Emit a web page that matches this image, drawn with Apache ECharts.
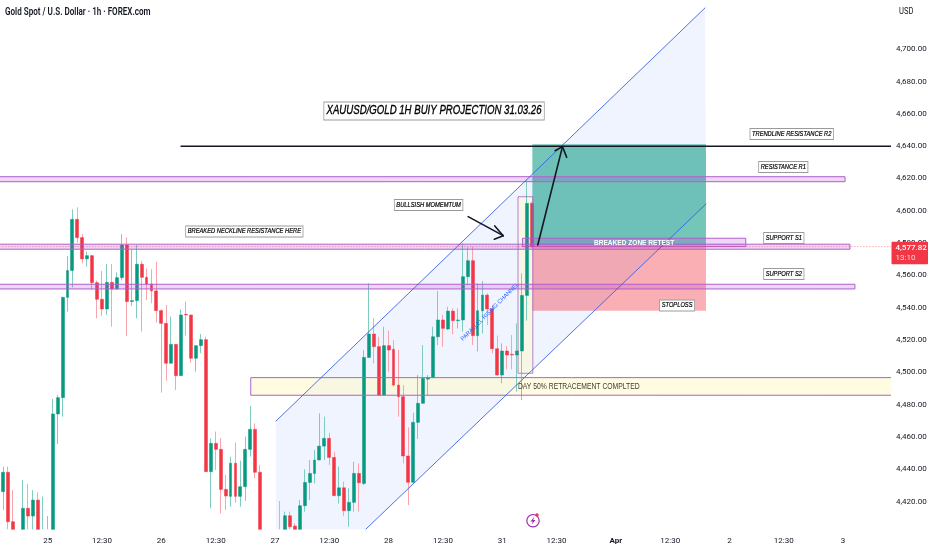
<!DOCTYPE html>
<html><head><meta charset="utf-8">
<style>html,body{margin:0;padding:0;background:#fff}#c{width:932px;height:550px}</style>
<script src="https://cdn.jsdelivr.net/npm/echarts@6/dist/echarts.min.js"></script>
</head><body><div id="c"></div>
<script>
const opens=[4426.1,4438.1,4407.5,4398,4398,4415.8,4411,4420.9,4395,4392,4400,4474.2,4484.3,4546.4,4563,4594.7,4583.4,4570.2,4572.2,4555.5,4545.2,4539.2,4555.7,4551.6,4558.6,4578.8,4543.8,4544.4,4566.9,4558.8,4554.7,4550.4,4538.2,4530.3,4505.6,4517.3,4497.9,4535.9,4535.5,4508.7,4516.5,4520.2,4438.5,4456,4452.3,4427.5,4423.2,4443.7,4423.2,4429.2,4452.3,4464.7,4438.1,4398,4390,4385,4392,4400,4411.2,4404.8,4400,4417.4,4431.8,4437.4,4445.7,4454.3,4459.1,4447.3,4423.6,4428.5,4414.3,4419.5,4437.4,4431.2,4509.2,4523.7,4515.9,4485.9,4516.5,4514.2,4492.1,4484.9,4448.2,4431.9,4469,4480.8,4495.8,4496.7,4522,4532.4,4526.8,4537.9,4532,4532.4,4559.2,4569.1,4522.7,4538.1,4547.8,4539.2,4514.6,4498.3,4513.2,4511.1,4510.7,4513.2,4547.6,4604.6];
const closes=[4438.1,4407.5,4400.3,4396,4415.8,4411,4420.9,4400,4400,4400,4474.2,4484.3,4546.4,4563,4594.7,4583.4,4570.2,4572.2,4555.5,4545.2,4539.2,4555.7,4551.6,4558.6,4578.8,4543.8,4544.4,4566.9,4558.8,4554.7,4550.4,4538.2,4530.3,4505.6,4517.3,4497.9,4535.5,4535.5,4508.7,4516.5,4520.2,4438.5,4456,4452.3,4427.5,4423.4,4443.7,4423.2,4429.2,4452.3,4464.7,4438.1,4398,4390,4385,4395,4398,4411.2,4404.4,4401,4417.4,4431.8,4437.4,4445.7,4454.3,4459.1,4447.3,4423.6,4428.5,4414.3,4419.5,4437.4,4431.6,4509.2,4523.7,4515.9,4485.9,4516.5,4513.8,4492.1,4484.9,4448.2,4431.9,4469,4480.8,4496.2,4496.7,4522,4532.4,4527.2,4537.9,4532,4532.4,4559.2,4569.1,4522.7,4538.1,4547.8,4539.2,4514.6,4498.3,4513.2,4510.7,4510.7,4513.2,4547.6,4604.6,4577.8];
const lows=[4414.8,4402.4,4400,4394,4395,4402.4,4402.4,4396,4392,4390,4396,4455.6,4472.5,4537.6,4552.6,4580.3,4567.5,4565.4,4551,4533.4,4534.9,4535.5,4528.3,4551,4556.8,4522.5,4541,4533.4,4525.2,4544.8,4542.7,4530.8,4487.4,4494.8,4505.6,4489,4497.9,4522.7,4506,4500.4,4511.8,4438.5,4415.8,4439.5,4412.7,4414.8,4416.8,4419.3,4416.8,4420.5,4447.8,4434.4,4394,4385,4380,4380,4388,4396,4398,4396,4396,4413.7,4420.9,4431.2,4445.7,4445.7,4442.6,4423.6,4418.8,4411,4404.4,4413.7,4413.7,4430.2,4509.2,4505.5,4485.9,4485.9,4500.4,4491.1,4472.5,4443.6,4417.8,4431.9,4458.7,4480.8,4485.9,4496.7,4516.9,4515.9,4526.2,4523.5,4527.2,4525.1,4554,4516.9,4512.8,4524.1,4529.3,4511.7,4498.3,4493.2,4501.8,4501.8,4488,4482.8,4532,4577];
const highs=[4441.6,4441.6,4427.1,4399,4433.3,4430.9,4427.1,4425.7,4423,4411,4483.5,4486,4546.8,4572,4600.9,4602.2,4585.6,4574.7,4572.6,4556.8,4562.7,4567.1,4567.1,4561.9,4585.6,4583.6,4576.2,4578.8,4568.9,4564.4,4563.8,4568.5,4539,4541.7,4534.5,4517.3,4539,4543.8,4535.5,4516.5,4523.7,4522.1,4459.1,4463.3,4459.1,4436.4,4447.8,4456.5,4445.3,4460.2,4479.2,4468.4,4442.6,4399,4395,4399,4420.3,4413.7,4413.7,4406.5,4420.9,4439.9,4445.7,4451.9,4474.6,4472.5,4462.6,4450.8,4441.6,4432.3,4428.1,4444.6,4443.6,4513.8,4555.1,4533.4,4522,4528.2,4525.8,4520,4513.8,4492.1,4465.9,4475,4498.3,4516.9,4498.3,4528.2,4550.3,4535.5,4540.6,4539.6,4539.6,4579.8,4577.4,4577.8,4555.1,4556.5,4548.9,4541.7,4522.7,4517.9,4516.3,4523.1,4530.3,4561.3,4619,4605.5];

const barSlots=180;
const timeLabels={9:'25',20:'12:30',32:'26',43:'12:30',55:'27',66:'12:30',78:'28',89:'12:30',101:'31',112:'12:30',124:'Apr',135:'12:30',147:'2',158:'12:30',170:'3'};
const priceTicks=[4420,4440,4460,4480,4500,4520,4540,4560,4580,4600,4620,4640,4660,4680,4700];
const axisMin=4402.8, axisMax=4730.5;
const lastPrice=4577.82;
const countdown='13:10';

// [from bar, to bar, upper price, lower price]
const srBands=[[-2,170.4,4621.1,4618],[-2,171.4,4579.3,4576.2],[-2,172.4,4554.5,4551.6],[105.1,150.3,4583,4577.8]];
const retraceZone=[50.1,180,4496.7,4485.8];
const candleHighlight=[104.2,107.2,4608.7,4499.4];
const targetBox=[107.1,142.25,4641.2,4578.8];
const stopBox=[107.1,142.25,4578.8,4538.1];
const channelFill=[[55.2,4469.8],[142.05,4725.6],[142.25,4604.2],[55.2,4349.7]];
const channelLines=[[[55.2,4469.8],[142.05,4725.6]],[[55.2,4349.7],[142.25,4604.2]]];
const blackLines=[
 [[36,4640],[180,4640]],
 [[108.2,4578.8],[113.2,4639.7]],[[111.7,4637.2],[113.2,4639.7]],[[114.05,4633.1],[113.2,4639.7]],
 [[94.1,4596.4],[101.2,4584.6]],[[99.5,4590.6],[101.2,4584.6]],[[99.4,4582.4],[101.2,4584.6]]
];
// [bar, price, text]
const boxedNotes=[
 [87.2,4661.8,'XAUUSD/GOLD 1H BUIY PROJECTION 31.03.26',12.5],
 [86.1,4603.6,'BULLSISH MOMEMTUM',7.2],
 [48.8,4587.2,'BREAKED NECKLINE RESISTANCE HERE',7.2],
 [159.6,4647.6,'TRENDLINE RESISTANCE R2',7.2],
 [157.9,4627.1,'RESISTANCE R1',7.2],
 [158,4583.2,'SUPPORT S1',7.2],
 [158,4560.9,'SUPPORT S2',7.2],
 [136.4,4541.4,'STOPLOSS',7.2]
];
const retestNote=[127.7,4580,'BREAKED ZONE RETEST'];
const retraceNote=[116.5,4491.2,'DAY 50% RETRACEMENT COMPLTED'];
const channelNote=[98.5,4537.5,'PARALLEL RISING CHANNEL'];

const UI='Roboto,"Noto Sans",sans-serif';
const NOTE='"Liberation Sans",sans-serif';
const GREEN='#089981',RED='#F23645',PURPLE='#b060cc';
const fmt=v=>v.toLocaleString('en-US',{minimumFractionDigits:2,maximumFractionDigits:2});
const categories=Array.from({length:barSlots},(_,i)=>timeLabels[i]||'');
// candlesticks are only filtered, not cut, at the grid edge: limit what is drawn to the visible window
const seen=v=>Math.max(v,axisMin);
const fullCandles=opens.map((o,i)=>highs[i]<axisMin?'-':[seen(o),seen(closes[i]),seen(lows[i]),seen(highs[i])]);
const bodyCandles=opens.map((o,i)=>Math.max(o,closes[i])<axisMin?'-':[seen(o),seen(closes[i]),seen(Math.min(o,closes[i])),seen(Math.max(o,closes[i]))]);

function rectShape(api,r){
  const a=api.coord([r[0],r[2]]),b=api.coord([r[1],r[3]]);
  return {x:a[0],y:a[1],width:b[0]-a[0],height:b[1]-a[1]};
}
function rectItem(api,r,fill,stroke){
  return {type:'rect',shape:rectShape(api,r),style:{fill:fill,stroke:stroke||null,lineWidth:stroke?1:0}};
}
function lineItem(api,pair,color,w){
  const a=api.coord(pair[0]),b=api.coord(pair[1]);
  return {type:'line',shape:{x1:a[0],y1:a[1],x2:b[0],y2:b[1]},style:{stroke:color,lineWidth:w,lineCap:'round'}};
}
function underlay(params,api){
  const ch=[];
  ch.push({type:'polygon',shape:{points:channelFill.map(p=>api.coord(p))},style:{fill:'rgba(41,98,255,0.07)'}});
  ch.push(rectItem(api,retraceZone,'rgba(255,249,200,0.55)'));
  ch.push(rectItem(api,candleHighlight,'rgba(255,250,200,0.45)'));
  return {type:'group',children:ch};
}
function drawings(params,api){
  const ch=[];
  ch.push(rectItem(api,targetBox,'rgba(8,153,129,0.56)'));
  ch.push(rectItem(api,stopBox,'rgba(242,54,69,0.4)'));
  ch.push(rectItem(api,candleHighlight,'rgba(0,0,0,0)','rgba(160,90,190,0.75)'));
  ch.push(rectItem(api,retraceZone,'rgba(0,0,0,0)',PURPLE));
  srBands.forEach(b=>ch.push(rectItem(api,b,'rgba(176,70,210,0.22)',PURPLE)));
  channelLines.forEach(l=>ch.push(lineItem(api,l,'rgba(50,90,225,0.85)',1)));
  blackLines.forEach(l=>ch.push(lineItem(api,l,'#131722',1.6)));
  const dotA=api.coord([-2,lastPrice]),dotB=api.coord([180,lastPrice]);
  ch.push({type:'line',shape:{x1:dotA[0],y1:dotA[1],x2:dotB[0],y2:dotB[1]},style:{stroke:RED,lineWidth:1,lineDash:[1,2],opacity:.6}});
  boxedNotes.forEach(n=>{
    const p=api.coord([n[0],n[1]]);
    ch.push({type:'text',x:p[0],y:p[1],scaleX:n[3]>10?0.77:0.8,style:{text:n[2],font:'italic '+n[3]+'px '+NOTE,fill:'#000',stroke:'#000',lineWidth:n[3]>10?0.35:0.2,align:'center',verticalAlign:'middle',backgroundColor:'#fff',borderColor:'#9a9a9a',borderWidth:1,padding:n[3]>10?[2,3]:[1.5,2]}});
  });
  let p=api.coord([retestNote[0],retestNote[1]]);
  ch.push({type:'text',x:p[0],y:p[1],scaleX:0.82,style:{text:retestNote[2],font:'bold 8px '+NOTE,fill:'#fff',align:'center',verticalAlign:'middle'}});
  p=api.coord([retraceNote[0],retraceNote[1]]);
  ch.push({type:'text',x:p[0],y:p[1],scaleX:0.8,style:{text:retraceNote[2],font:'8.5px '+NOTE,fill:'#3d3d33',align:'center',verticalAlign:'middle'}});
  p=api.coord([channelNote[0],channelNote[1]]);
  ch.push({type:'text',x:p[0],y:p[1],rotation:Math.PI/4,style:{text:channelNote[2],font:'5.8px '+NOTE,fill:'#2962FF',align:'center',verticalAlign:'middle'}});
  return {type:'group',children:ch};
}
function priceTag(params,api){
  const cs=params.coordSys,y=api.coord([0,lastPrice])[1],x=cs.x+cs.width+1.5;
  return {type:'group',children:[
    {type:'rect',shape:{x:x,y:y-4.8,width:36.5,height:22.5,r:1},style:{fill:RED}},
    {type:'text',x:x+4,y:y+1.5,style:{text:fmt(lastPrice),font:'500 8px '+UI,fill:'#fff',align:'left',verticalAlign:'middle'}},
    {type:'text',x:x+4,y:y+11,style:{text:countdown,font:'8px '+UI,fill:'#fbd5d8',align:'left',verticalAlign:'middle'}}
  ]};
}
const chart=echarts.init(document.getElementById('c'),null,{renderer:'canvas'});
chart.setOption({
  animation:false,backgroundColor:'#fff',
  grid:{left:0.8,right:42,top:0,bottom:20.7,containLabel:false,outerBoundsMode:'none'},
  xAxis:[
    {type:'category',data:categories,boundaryGap:true,axisLine:{show:false},axisTick:{show:false},splitLine:{show:false},
     axisLabel:{interval:0,margin:8,fontFamily:UI,fontSize:8,color:'#131722',hideOverlap:false,
       formatter:v=>v==='Apr'?'{b|Apr}':v,rich:{b:{fontFamily:UI,fontSize:8,fontWeight:'bold',color:'#131722'}}}},
    {type:'value',min:-0.5,max:barSlots-0.5,show:false}
  ],
  yAxis:{type:'value',position:'right',min:axisMin,max:axisMax,scale:true,axisLine:{show:false},axisTick:{show:false},splitLine:{show:false},
    axisLabel:{customValues:priceTicks,margin:6,padding:[3,0,0,0],fontFamily:UI,fontSize:8,color:'#131722',formatter:v=>fmt(v)}},
  graphic:[
    {type:'text',x:5,y:7,scaleX:0.77,z:20,style:{text:'Gold Spot / U.S. Dollar · 1h · FOREX.com',font:'600 10.5px '+UI,fill:'#131722'}},
    {type:'text',x:899,y:7,scaleX:0.8,z:20,style:{text:'USD',font:'9.5px '+UI,fill:'#131722'}},
    {type:'circle',shape:{cx:533,cy:520.7,r:6.2},z:20,style:{fill:'#fff',stroke:'#9c27b0',lineWidth:1.2}},
    {type:'polygon',shape:{points:[[534.2,516.8],[530.6,521.4],[532.8,521.4],[531.8,524.6],[535.4,520],[533.2,520]]},z:21,style:{fill:'#9c27b0'}},
    {type:'circle',shape:{cx:537,cy:515,r:1.7},z:22,style:{fill:RED}}
  ],
  series:[
    {type:'custom',name:'underlay',xAxisIndex:1,yAxisIndex:0,data:[[0,4500]],clip:true,z:1,silent:true,renderItem:underlay},
    {type:'candlestick',name:'wicks',xAxisIndex:0,data:fullCandles,barWidth:1,z:2,
     itemStyle:{color:'#80ccbf',color0:'#f9a3aa',borderColor:'#80ccbf',borderColor0:'#f9a3aa',borderWidth:1}},
    {type:'candlestick',name:'bodies',xAxisIndex:0,data:bodyCandles,barWidth:3.4,z:3,
     itemStyle:{color:GREEN,color0:RED,borderColor:GREEN,borderColor0:RED,borderWidth:0.5}},
    {type:'custom',name:'drawings',xAxisIndex:1,yAxisIndex:0,data:[[0,4500]],clip:true,z:5,silent:true,renderItem:drawings},
    {type:'custom',name:'price tag',xAxisIndex:1,yAxisIndex:0,data:[[0,lastPrice]],clip:false,z:6,silent:true,renderItem:priceTag}
  ]
});
</script></body></html>
